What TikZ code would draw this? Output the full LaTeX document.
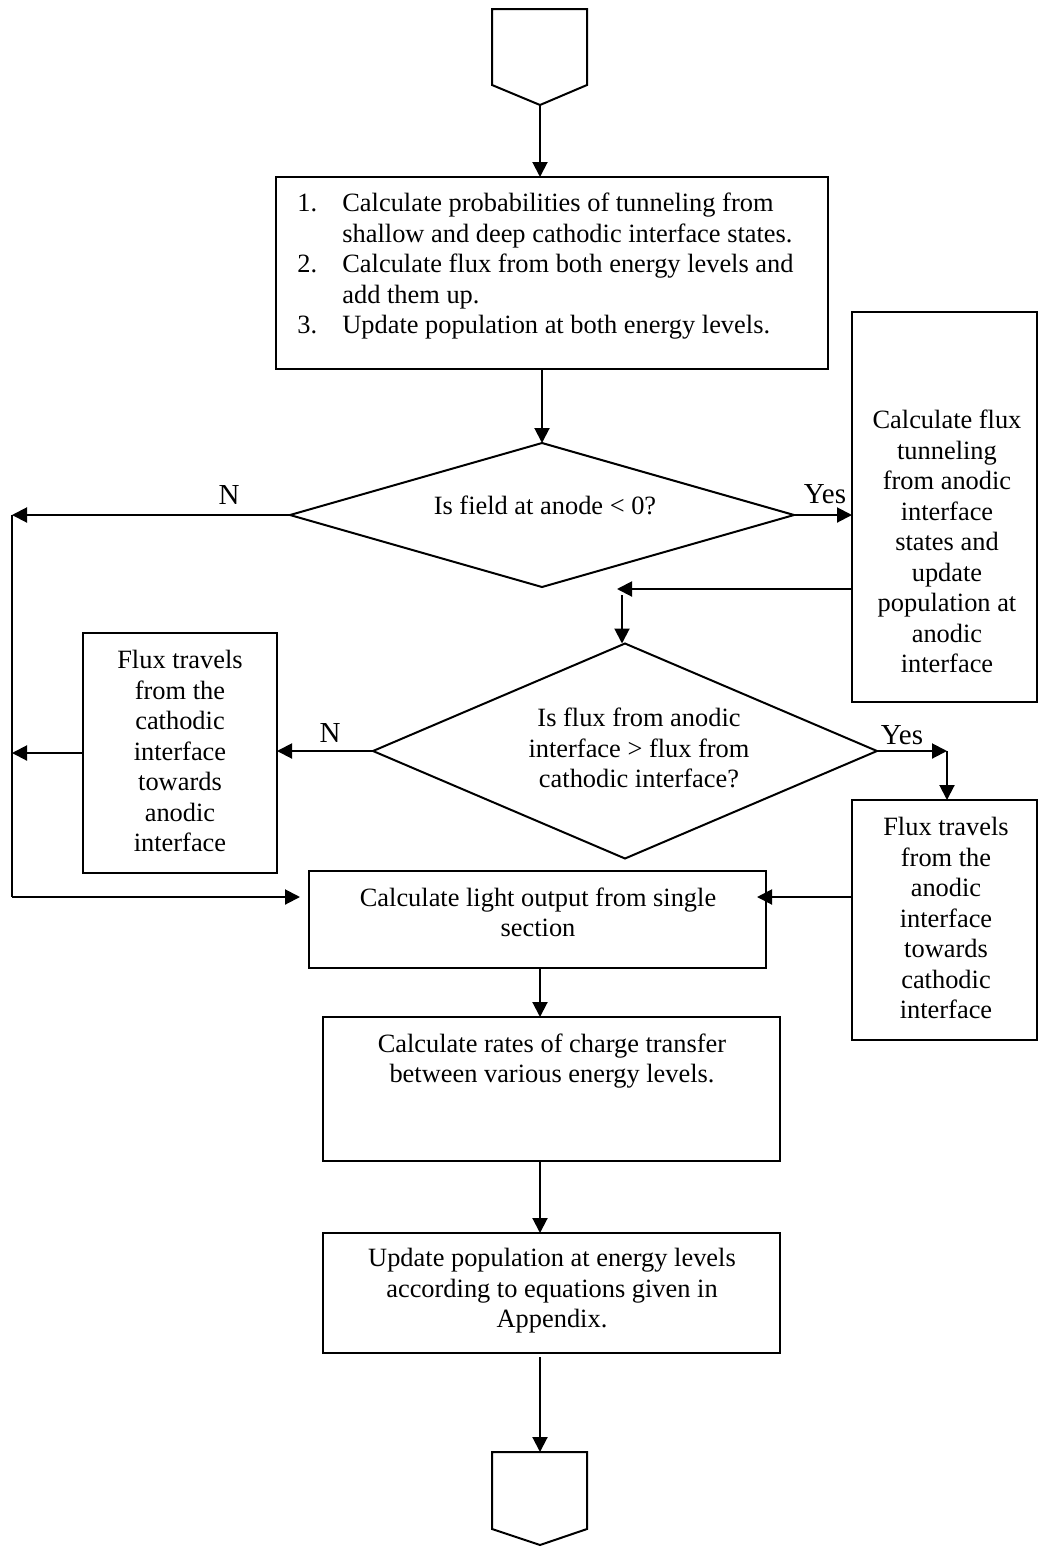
\documentclass[tikz,border=0pt]{standalone}
\usepackage{fontspec}
\setmainfont{Liberation Serif}
\usetikzlibrary{shapes.geometric,arrows.meta}
\begin{document}
\begin{tikzpicture}[x=0.5pt,y=-0.5pt,
  box/.style={draw,line width=1pt,rectangle,inner sep=0pt,outer sep=0pt},
  dia/.style={draw,line width=1pt,diamond,inner sep=0pt,outer sep=0pt},
  arr/.style={line width=1pt,-{Triangle[length=7.5pt,width=7.5pt]}},
  ln/.style={line width=1pt},
  txt/.style={inner sep=0pt,font=\fontsize{13.2pt}{15.25pt}\selectfont,align=center,anchor=north},
  lbl/.style={inner sep=0pt,font=\fontsize{14.5pt}{16pt}\selectfont}]
\useasboundingbox (0,0) rectangle (1039,1547);

% start connector
\draw[ln,line join=miter] (492,9) -- (587,9) -- (587,85) -- (540,105) -- (492,85) -- cycle;
\coordinate (s) at (540,105);

% nodes
\node[box,minimum width=276pt,minimum height=96pt] (box1) at (552,273) {};
\node[txt,anchor=north west,align=left] (t1) at (297,193) {\makebox[22.5pt][l]{1.}Calculate probabilities of tunneling from\\
\hspace*{22.5pt}shallow and deep cathodic interface states.\\
\makebox[22.5pt][l]{2.}Calculate flux from both energy levels and\\
\hspace*{22.5pt}add them up.\\
\makebox[22.5pt][l]{3.}Update population at both energy levels.};

\node[dia,minimum width=252pt,minimum height=72pt] (d1) at (542,515) {};
\node[txt,anchor=center] (t2) at (545,505) {Is field at anode < 0?};

\node[box,minimum width=92.5pt,minimum height=195pt] (rt) at (944.5,507) {};
\node[txt] (t3) at (947,410) {Calculate flux\\tunneling\\from anodic\\interface\\states and\\update\\population at\\anodic\\interface};

\node[dia,minimum width=252pt,minimum height=107.5pt] (d2) at (625,751) {};
\node[txt] (t4) at (639,708) {Is flux from anodic\\interface > flux from\\cathodic interface?};

\node[box,minimum width=97pt,minimum height=120pt] (lb) at (180,753) {};
\node[txt] (t5) at (180,650) {Flux travels\\from the\\cathodic\\interface\\towards\\anodic\\interface};

\node[box,minimum width=92.5pt,minimum height=120pt] (rb) at (944.5,920) {};
\node[txt] (t6) at (946,817) {Flux travels\\from the\\anodic\\interface\\towards\\cathodic\\interface};

\node[box,minimum width=228.5pt,minimum height=48.5pt] (lo) at (537.5,919.5) {};
\node[txt] (t7) at (538,887) {Calculate light output from single\\section};

\node[box,minimum width=228.5pt,minimum height=72pt] (cb) at (551.5,1089) {};
\node[txt] (t8) at (552,1033) {Calculate rates of charge transfer\\between various energy levels.};

\node[box,minimum width=228.5pt,minimum height=60pt] (ub) at (551.5,1293) {};
\node[txt] (t9) at (552,1248) {Update population at energy levels\\according to equations given in\\Appendix.};

% end connector
\draw[ln,line join=miter] (492,1452) -- (587,1452) -- (587,1529) -- (540,1545) -- (492,1529) -- cycle;
\coordinate (e) at (540,1452);

% labels
\node[lbl] (n1) at (229,495) {N};
\node[lbl] (y1) at (825,494) {Yes};
\node[lbl] (n2) at (330,733) {N};
\node[lbl] (y2) at (902,735) {Yes};

% helper coordinates
\coordinate (L1) at (12,515);
\coordinate (L2) at (12,753);
\coordinate (L3) at (12,897);
\coordinate (loL) at (300,897);
\coordinate (loR) at (757,897);
\coordinate (j1) at (617,589);
\coordinate (j2) at (622,595);
\coordinate (j3) at (947,751);
\coordinate (m) at (540,0);

% connectors
\draw[arr] (s) -- (s |- box1.north);
\draw[arr] (d1.north |- box1.south) -- (d1.north);
\draw[arr] (d1.east) -- (rt.west |- d1.east);
\draw[arr] (d1.west) -- (L1);
\draw[ln] (L1) -- (L3);
\draw[arr] (L3) -- (loL);
\draw[arr] (rt.west |- j1) -- (j1);
\draw[arr] (j2) -- (j2 |- d2.north);
\draw[arr] (d2.west) -- (lb.east |- d2.west);
\draw[arr] (lb.west) -- (L2);
\draw[arr] (d2.east) -- (j3);
\draw[arr] (j3) -- (j3 |- rb.north);
\draw[arr] (rb.west |- loR) -- (loR);
\draw[arr] (m |- lo.south) -- (m |- cb.north);
\draw[arr] (m |- cb.south) -- (m |- ub.north);
\draw[arr] ([yshift=-2pt]m |- ub.south) -- (e);
\end{tikzpicture}
\end{document}
